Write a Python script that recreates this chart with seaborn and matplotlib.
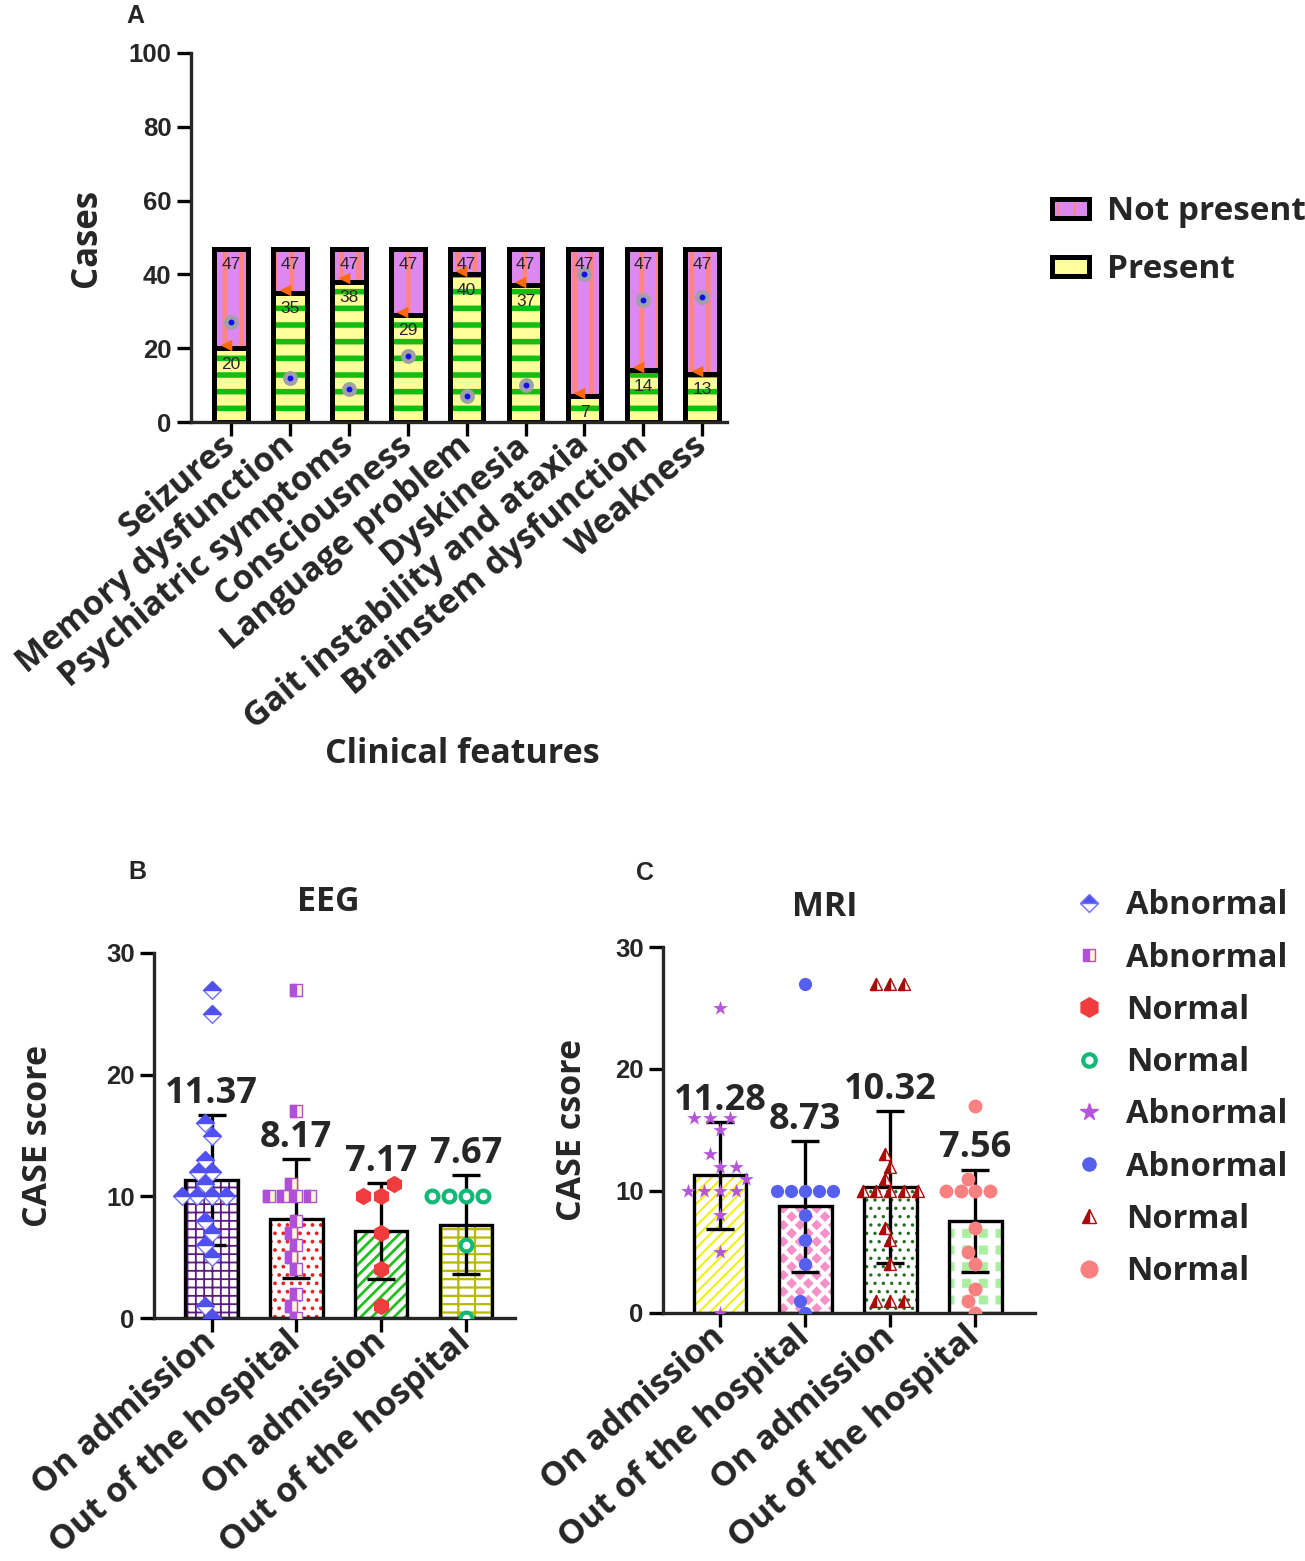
import numpy as np
import pandas as pd
import matplotlib
matplotlib.use("Agg")
import matplotlib.pyplot as plt
import seaborn as sns
from matplotlib.markers import MarkerStyle
from matplotlib.lines import Line2D
from matplotlib.patches import Patch
from matplotlib.legend_handler import HandlerTuple

# ---- panel A: clinical features of the 47 patients ----
features = ["Seizures", "Memory dysfunction", "Psychiatric symptoms", "Consciousness",
            "Language problem", "Dyskinesia", "Gait instability and ataxia",
            "Brainstem dysfunction", "Weakness"]
present_cases = [20, 35, 38, 29, 40, 37, 7, 14, 13]
total_cases = [47, 47, 47, 47, 47, 47, 47, 47, 47]
dot_cases = [27, 12, 9, 18, 7, 10, 40, 33, 34]

# ---- panels B/C: CASE scores ----
group_ids = ["abn_adm", "abn_out", "nor_adm", "nor_out"]
group_labels = ["On admission", "Out of the hospital", "On admission", "Out of the hospital"]

eeg_means = [11.37, 8.17, 7.17, 7.67]
eeg_sd = [5.33, 4.87, 3.95, 4.05]
eeg_abn_adm = [27, 25, 16, 15, 13, 12, 12, 11, 10, 10, 10, 10, 8, 7, 6, 5, 1, 0]
eeg_abn_out = [27, 17, 11, 10, 10, 10, 10, 8, 7, 6, 5, 4, 2, 1, 0]
eeg_nor_adm = [11, 10, 10, 7, 4, 1]
eeg_nor_out = [10, 10, 10, 10, 6, 0]

mri_means = [11.28, 8.73, 10.32, 7.56]
mri_sd = [4.4, 5.35, 6.25, 4.2]
mri_abn_adm = [25, 16, 16, 16, 15, 13, 12, 12, 11, 10, 10, 10, 10, 8, 5, 0]
mri_abn_out = [27, 10, 10, 10, 10, 10, 8, 6, 4, 1, 0]
mri_nor_adm = [27, 27, 27, 13, 12, 11, 10, 10, 10, 10, 10, 7, 6, 4, 1, 1, 1]
mri_nor_out = [17, 11, 10, 10, 10, 10, 7, 5, 4, 2, 1, 0]

legend_labels = ["Abnormal", "Abnormal", "Normal", "Normal",
                 "Abnormal", "Abnormal", "Normal", "Normal"]

sns.set_theme(style="ticks")
plt.rcParams["font.family"] = ["Open Sans", "DejaVu Sans"]
plt.rcParams["hatch.linewidth"] = 1.5

LABEL = dict(fontfamily=["Open Sans", "DejaVu Sans"], fontweight="bold")
NUM = dict(fontfamily=["Liberation Sans", "DejaVu Sans"], fontweight="bold")

W, H = 1305, 1561
fig = plt.figure(figsize=(W / 100, H / 100), dpi=100)


def px_axes(left, top, right, bottom):
    return fig.add_axes([left / W, 1 - bottom / H, (right - left) / W, (bottom - top) / H])


def set_hatch_lw(patch, lw):
    if hasattr(patch, "set_hatch_linewidth"):
        patch.set_hatch_linewidth(lw)


def style_axes(ax, ymax, step, labels, rot, xfs):
    sns.despine(ax=ax)
    for s in ("left", "bottom"):
        ax.spines[s].set_linewidth(2.4)
    ax.tick_params(axis="both", width=2.4, length=10, color="black", pad=4)
    ticks = np.arange(0, ymax + 1, step)
    ax.set_ylim(0, ymax)
    ax.set_yticks(ticks)
    ax.set_yticklabels([str(t) for t in ticks], fontsize=18.5, **NUM)
    ax.set_xticks(np.arange(len(labels)))
    ax.set_xticklabels(labels, rotation=rot, ha="right", va="center",
                       rotation_mode="anchor", fontsize=xfs, **LABEL)


# ================= panel A =================
axA = px_axes(191, 53, 727, 422)
dfA = pd.DataFrame({"feature": features, "present": present_cases,
                    "total": total_cases, "dot": dot_cases})
n = len(features)
sns.barplot(data=dfA, x="feature", y="total", order=features, width=0.57, errorbar=None, ax=axA)
sns.barplot(data=dfA, x="feature", y="present", order=features, width=0.57, errorbar=None, ax=axA)
for i, p in enumerate(axA.patches[:2 * n]):
    p.set_linewidth(0)
    if i < n:
        p.set_facecolor("#dd88f0")
        p.set_edgecolor("#ff8585")
        p.set_hatch("|")
        set_hatch_lw(p, 3.6)
    else:
        p.set_facecolor("#ffff99")
        p.set_edgecolor("#10c010")
        p.set_hatch("-")
        set_hatch_lw(p, 4.0)
sns.barplot(data=dfA, x="feature", y="total", order=features, width=0.57, errorbar=None, ax=axA)
sns.barplot(data=dfA, x="feature", y="present", order=features, width=0.57, errorbar=None, ax=axA)
for p in axA.patches[2 * n:]:
    p.set_facecolor("none")
    p.set_edgecolor("black")
    p.set_linewidth(3.6)

sns.stripplot(data=dfA, x="feature", y="dot", order=features, jitter=False, size=7.5,
              color="#1010f0", edgecolor="#a0a0a8", linewidth=3.2, zorder=6, ax=axA)
sns.scatterplot(x=np.arange(n) - 0.09, y=np.array(present_cases) + 0.9, marker="<",
                color="#ff6a00", s=70, linewidth=0, zorder=7, legend=False, ax=axA)
for i, (p, t) in enumerate(zip(present_cases, total_cases)):
    axA.text(i, t - 4.3, str(t), ha="center", va="center", fontsize=12.5,
             fontfamily=["Liberation Sans", "DejaVu Sans"], zorder=8)
    axA.text(i, p - 4.3, str(p), ha="center", va="center", fontsize=12.5,
             fontfamily=["Liberation Sans", "DejaVu Sans"], zorder=8)

style_axes(axA, 100, 20, features, 40, 24.5)
axA.set_xlim(-0.68, 8.42)
axA.set_ylabel("Cases", fontsize=25, **LABEL)
axA.yaxis.set_label_coords(-0.16, 0.5)
axA.set_xlabel("Clinical features", fontsize=24.5, **LABEL)
axA.xaxis.set_label_coords(0.507, -0.855)

hA1 = Patch(facecolor="#dd88f0", edgecolor="#ff8585", hatch="|", linewidth=0)
hA2 = Patch(facecolor="#ffff99", edgecolor="#10c010", hatch="-", linewidth=0)
oA = Patch(facecolor="none", edgecolor="black", linewidth=3.6)
fig.legend(handles=[(hA1, oA), (hA2, oA)], labels=["Not present", "Present"],
           handler_map={tuple: HandlerTuple(ndivide=1)}, loc="center left",
           bbox_to_anchor=(1022 / W, 1 - 241 / H), frameon=False,
           prop=dict(family=["Open Sans", "DejaVu Sans"], weight="bold", size=24),
           handlelength=1.1, handleheight=0.5, handletextpad=0.55, labelspacing=0.75)


# ================= panels B and C =================
def score_panel(ax, means, sds, point_sets, bar_styles, point_styles):
    bars = pd.DataFrame({"group": group_ids, "score": means})
    sns.barplot(data=bars, x="group", y="score", order=group_ids, width=0.62,
                errorbar=None, ax=ax)
    for patch, (face, hatch, hcol, hlw) in zip(ax.patches, bar_styles):
        patch.set_facecolor(face)
        patch.set_edgecolor(hcol)
        patch.set_linewidth(0)
        patch.set_hatch(hatch)
        set_hatch_lw(patch, hlw)
    sns.barplot(data=bars, x="group", y="score", order=group_ids, width=0.62,
                errorbar=None, ax=ax)
    for patch in ax.patches[4:]:
        patch.set_facecolor("none")
        patch.set_edgecolor("black")
        patch.set_linewidth(2.4)
    ax.errorbar(np.arange(4), means, yerr=sds, fmt="none", ecolor="black",
                elinewidth=2.4, capsize=10, capthick=2.4, zorder=3)
    for gid, vals, layers in zip(group_ids, point_sets, point_styles):
        pts = pd.DataFrame({"group": gid, "score": vals})
        for layer in layers:
            sns.swarmplot(data=pts, x="group", y="score", order=group_ids,
                          zorder=5, ax=ax, **layer)
    for i, (m, s) in enumerate(zip(means, sds)):
        ax.text(i, m + s + 1.0, f"{m:.2f}", ha="center", va="baseline",
                fontsize=26, zorder=8, **LABEL)


eeg_bars = [("white", "++", "#5a1a80", 1.3),
            ("white", "..", "#ee2020", 1.5),
            ("white", "///", "#20c020", 2.0),
            ("white", "--|", "#b8b800", 1.6)]
eeg_points = [
    [dict(marker="D", color="white", edgecolor="#7070f5", linewidth=1.0, size=9),
     dict(marker=MarkerStyle("D", "top"), color="#5050f0", edgecolor="#5050f0", linewidth=1.0, size=9)],
    [dict(marker="s", color="#fff6d0", edgecolor="#b050d8", linewidth=1.0, size=8.5),
     dict(marker=MarkerStyle("s", "left"), color="#b050d8", edgecolor="#b050d8", linewidth=1.0, size=8.5)],
    [dict(marker="h", color="#f03c3c", linewidth=0, size=12.5)],
    [dict(marker="o", color="white", edgecolor="#12b878", linewidth=3, size=8.5)],
]
mri_bars = [("white", "///", "#f0f000", 1.4),
            ("#f590c8", "xx", "white", 3.0),
            ("white", "..", "#207020", 1.2),
            ("#a8f0a0", "+", "white", 5.5)]
mri_points = [
    [dict(marker="*", color="#b455dc", linewidth=0, size=11)],
    [dict(marker="o", color="#5560f0", linewidth=0, size=9.5)],
    [dict(marker="^", color="white", edgecolor="#b01010", linewidth=1.0, size=8.5),
     dict(marker=MarkerStyle("^", "left"), color="#aa0a0a", edgecolor="#aa0a0a", linewidth=1.0, size=8.5)],
    [dict(marker="o", color="#f88080", linewidth=0, size=10)],
]

axB = px_axes(154, 953, 515, 1318)
style_axes(axB, 30, 10, group_labels, 41, 24.5)
axB.set_xlim(-0.68, 3.58)
score_panel(axB, eeg_means, eeg_sd,
            [eeg_abn_adm, eeg_abn_out, eeg_nor_adm, eeg_nor_out], eeg_bars, eeg_points)
style_axes(axB, 30, 10, group_labels, 41, 24.5)
axB.set_xlim(-0.68, 3.58)
axB.set_xlabel("")
axB.set_ylabel("CASE score", fontsize=24.5, **LABEL)
axB.yaxis.set_label_coords(-0.275, 0.5)
axB.text(0.482, 1.14, "EEG", transform=axB.transAxes, ha="center", va="center",
         fontsize=24.5, **LABEL)

axC = px_axes(663, 947, 1035, 1313)
style_axes(axC, 30, 10, group_labels, 41, 24.5)
axC.set_xlim(-0.67, 3.7)
score_panel(axC, mri_means, mri_sd,
            [mri_abn_adm, mri_abn_out, mri_nor_adm, mri_nor_out], mri_bars, mri_points)
style_axes(axC, 30, 10, group_labels, 41, 24.5)
axC.set_xlim(-0.67, 3.7)
axC.set_xlabel("")
axC.set_ylabel("CASE csore", fontsize=24.5, **LABEL)
axC.yaxis.set_label_coords(-0.2, 0.5)
axC.text(0.435, 1.11, "MRI", transform=axC.transAxes, ha="center", va="center",
         fontsize=24.5, **LABEL)

legend_handles = [
    Line2D([], [], ls="none", marker="D", fillstyle="top", color="#5050f0",
           markerfacecoloralt="white", markeredgecolor="#7070f5", markeredgewidth=1, markersize=9),
    Line2D([], [], ls="none", marker="s", fillstyle="left", color="#b050d8",
           markerfacecoloralt="#fff6d0", markeredgewidth=1, markersize=8),
    Line2D([], [], ls="none", marker="h", color="#f03c3c", markersize=14),
    Line2D([], [], ls="none", marker="o", markerfacecolor="white", markeredgecolor="#12b878",
           markeredgewidth=3, markersize=9),
    Line2D([], [], ls="none", marker="*", color="#b455dc", markersize=13),
    Line2D([], [], ls="none", marker="o", color="#5560f0", markersize=9.5),
    Line2D([], [], ls="none", marker="^", fillstyle="left", color="#aa0a0a",
           markerfacecoloralt="white", markeredgewidth=1, markersize=10),
    Line2D([], [], ls="none", marker="o", color="#f88080", markersize=12),
]
fig.legend(handles=legend_handles, labels=legend_labels, loc="upper left",
           bbox_to_anchor=(1040 / W, 1 - 860 / H), frameon=False,
           prop=dict(family=["Open Sans", "DejaVu Sans"], weight="bold", size=23.5),
           handlelength=1.2, handletextpad=0.55, labelspacing=0.59)

for letter, x, y in [("A", 135, 16), ("B", 137, 872), ("C", 645, 873)]:
    fig.text(x / W, 1 - y / H, letter, ha="center", va="center", fontsize=18, **NUM)

fig.savefig("out.png", dpi=100)
